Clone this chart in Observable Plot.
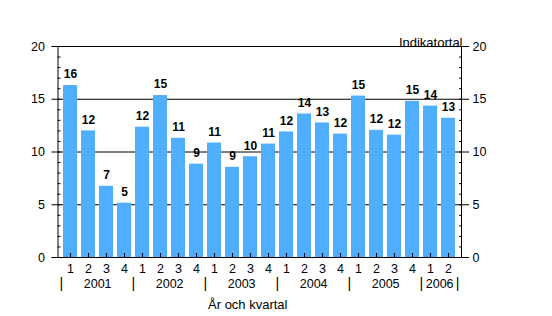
<!DOCTYPE html>
<html>
<head>
<meta charset="utf-8">
<script src="https://cdn.jsdelivr.net/npm/d3@7"></script>
<script src="https://cdn.jsdelivr.net/npm/@observablehq/plot@0.6"></script>
<style>
  html, body { margin: 0; padding: 0; background: #fff; }
  #chart { width: 552px; height: 316px; }
</style>
</head>
<body>
<div id="chart"></div>
<script>
const years = ["2001","2001","2001","2001","2002","2002","2002","2002","2003","2003","2003","2003",
               "2004","2004","2004","2004","2005","2005","2005","2005","2006","2006"];
const quarterLabels = ["1","2","3","4","1","2","3","4","1","2","3","4",
                       "1","2","3","4","1","2","3","4","1","2"];
const values = [16.3, 12.0, 6.75, 5.15, 12.35, 15.35, 11.3, 8.85, 10.85, 8.55, 9.55, 10.75,
                11.9, 13.6, 12.75, 11.7, 15.3, 12.05, 11.6, 14.8, 14.35, 13.2];
const yearNames = ["2001","2002","2003","2004","2005","2006"];
const yTicks = [0, 5, 10, 15, 20];
const yMinorTicks = [0,1,2,3,4,5,6,7,8,9,10,11,12,13,14,15,16,17,18,19,20];
const yLabel = "Indikatortal";
const xLabel = "År och kvartal";

const W = 552, H = 316, mL = 57.5, mR = 91, mT = 46, mB = 59;
const keys = values.map((_, i) => years[i] + "Q" + quarterLabels[i]);
const step = (W - mL - mR) / keys.length;
const data = keys.map((k, i) => ({key: k, year: years[i], q: quarterLabels[i], value: values[i]}));
// first quarter key of each year (for separators)
const firstOfYear = yearNames.map(y => keys[years.indexOf(y)]);
// center of each year: between the two middle quarters
const yearCenters = yearNames.map(y => {
  const idx = years.map((v, i) => v === y ? i : -1).filter(i => i >= 0);
  return {year: y, key: keys[idx[idx.length / 2 - 1]]};
});
const font = "'Liberation Sans', Arial, sans-serif";

const chart = Plot.plot({
  width: W, height: H,
  marginLeft: mL, marginRight: mR, marginTop: mT, marginBottom: mB,
  style: {fontFamily: font, fontSize: "12px", background: "white", color: "black", overflow: "visible"},
  x: {domain: keys, paddingInner: 0.2, paddingOuter: 0.1},
  y: {domain: [0, 20]},
  marks: [
    Plot.ruleY([5, 10, 15, 20], {stroke: "black", strokeWidth: 1}),
    Plot.barY(data, {x: "key", y: "value", fill: "#50AEFF"}),
    Plot.ruleY([0], {stroke: "black"}),
    Plot.frame({anchor: "left", stroke: "black"}),
    Plot.frame({anchor: "right", stroke: "black"}),
    Plot.axisY(yTicks, {anchor: "left", tickSize: 6, tickPadding: 7, label: null, fontSize: 12.5}),
    Plot.axisY(yMinorTicks, {anchor: "left", tickSize: -3, tickFormat: () => "", label: null}),
    Plot.axisY(yTicks, {anchor: "right", tickSize: 7, tickPadding: 4, label: null, fontSize: 12.5}),
    Plot.axisY(yMinorTicks, {anchor: "right", tickSize: -3, tickFormat: () => "", label: null}),
    Plot.axisX({anchor: "bottom", tickSize: -4, tickFormat: () => "", label: null}),
    Plot.text(data, {x: "key", y: "value", text: d => String(Math.round(d.value)), dy: -11,
                     fontWeight: "bold", fontSize: 12, fill: "black"}),
    Plot.text(data, {x: "key", text: "q", frameAnchor: "bottom", dy: 15.5, fontSize: 12.5, fill: "black"}),
    Plot.text(yearCenters, {x: "key", text: "year", frameAnchor: "bottom", dx: step / 2, dy: 30.5, fontSize: 12.5, fill: "black"}),
    Plot.text(firstOfYear, {x: d => d, text: () => "|", frameAnchor: "bottom", dx: -step / 2, dy: 30, fontSize: 14, fill: "black"}),
    Plot.text([keys[keys.length - 1]], {x: d => d, text: () => "|", frameAnchor: "bottom", dx: step / 2, dy: 30, fontSize: 14, fill: "black"}),
    Plot.text([xLabel], {text: d => d, frameAnchor: "bottom", dx: -12, dy: 51, fontSize: 13, fill: "black"}),
    Plot.text([yLabel], {text: d => d, frameAnchor: "top-right", textAnchor: "end", dx: 1, dy: -9, fontSize: 13, fill: "black"})
  ]
});
document.getElementById("chart").appendChild(chart);
</script>
</body>
</html>
